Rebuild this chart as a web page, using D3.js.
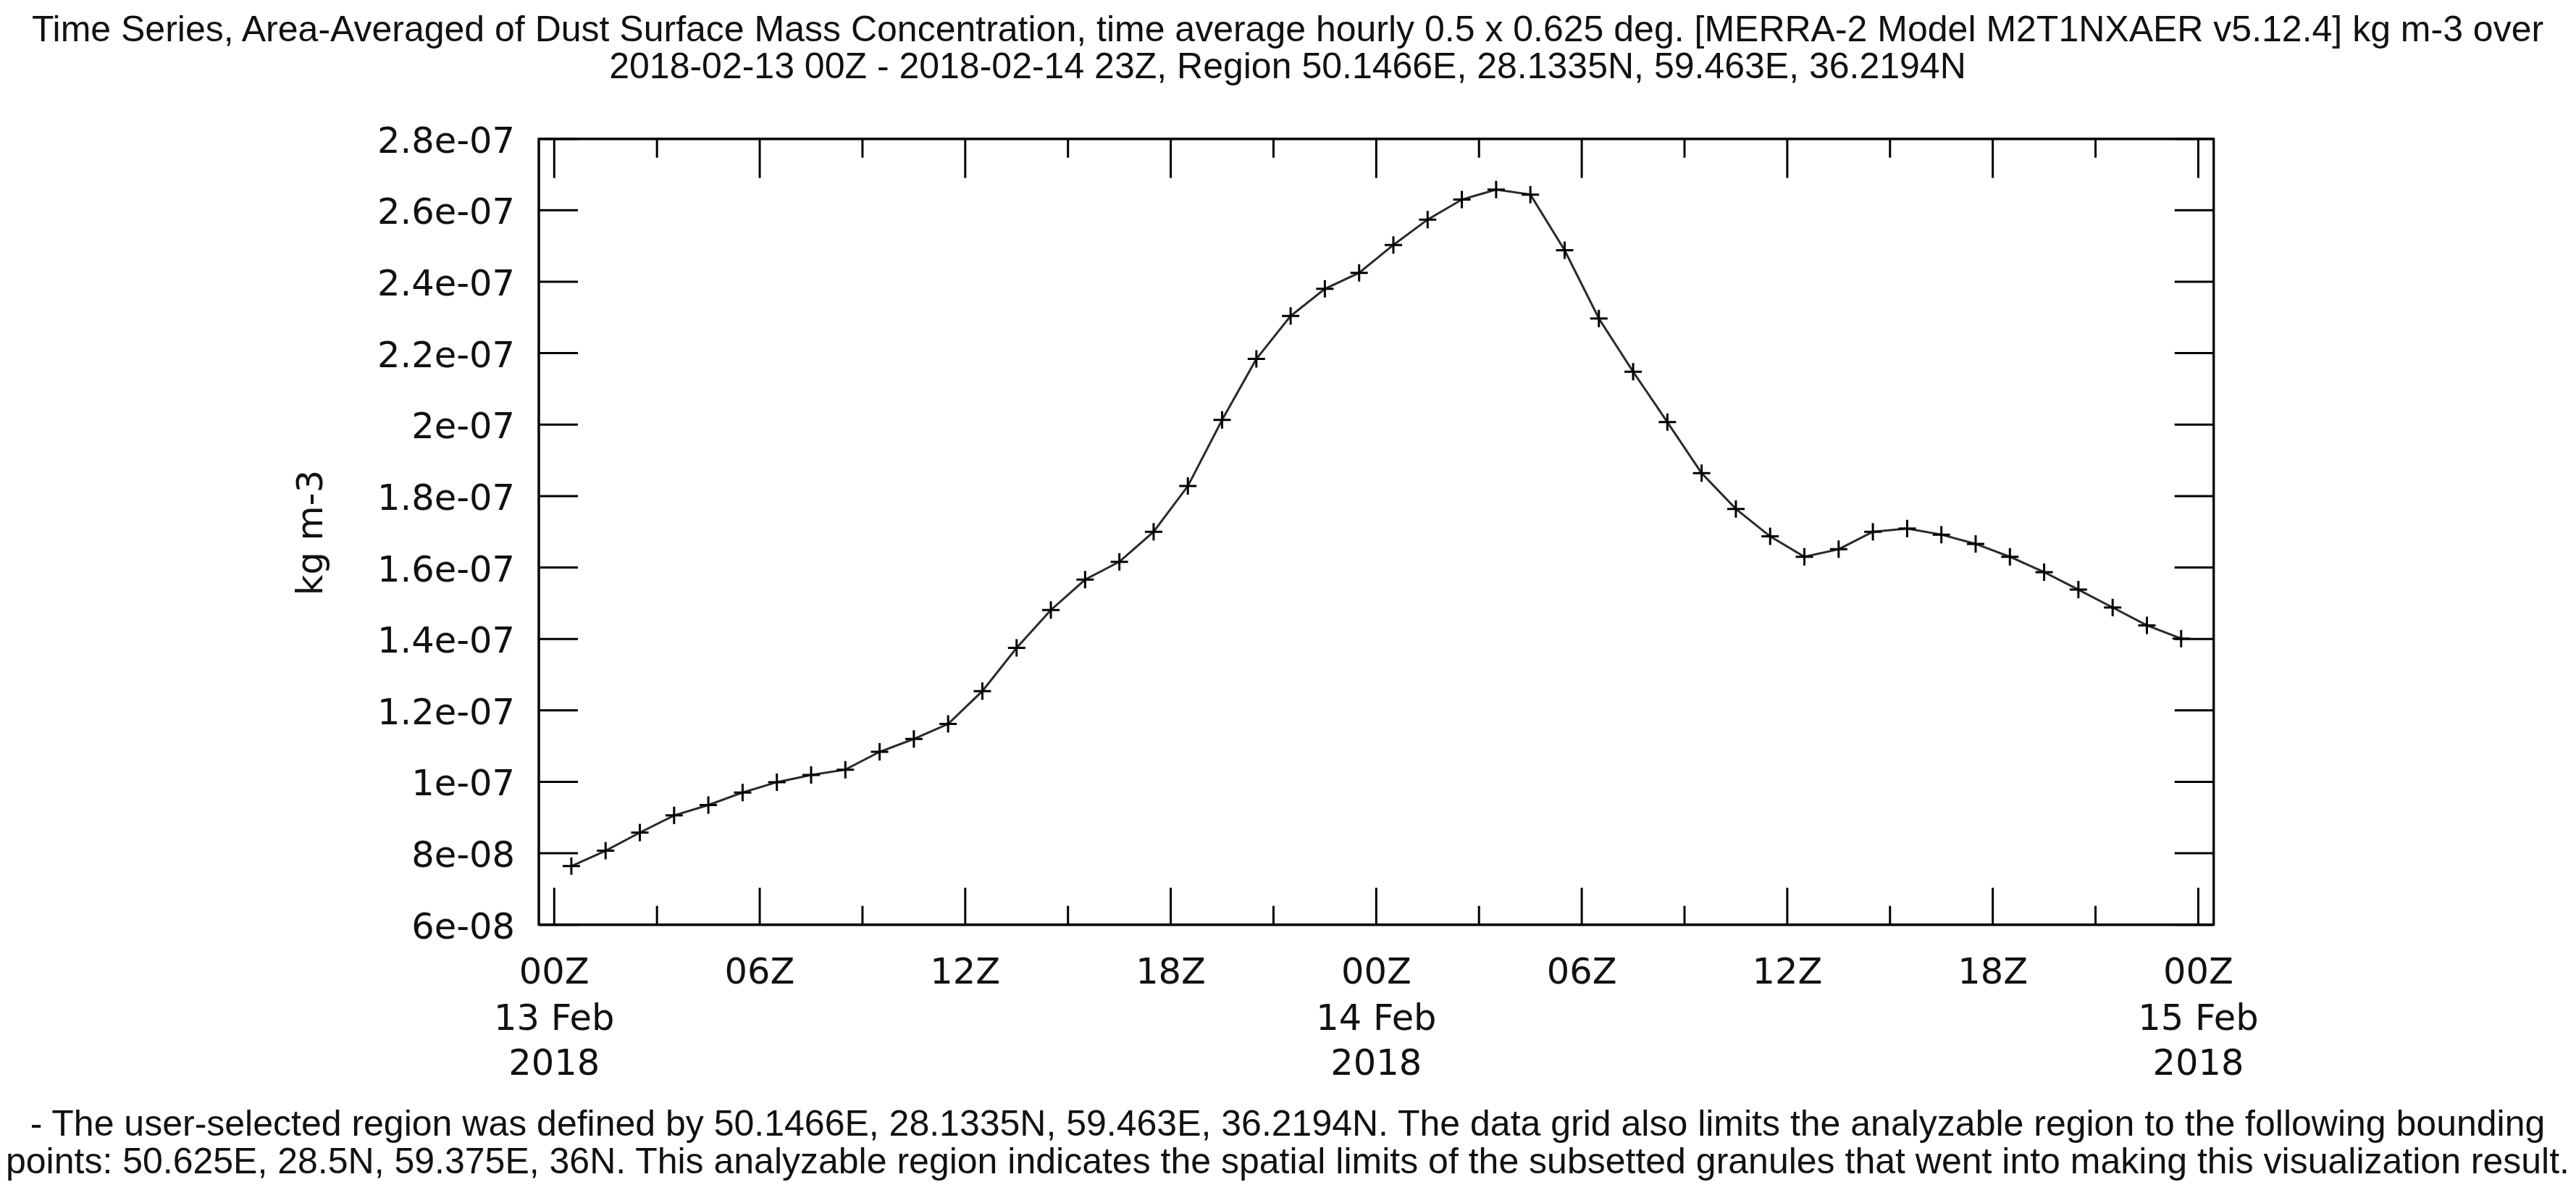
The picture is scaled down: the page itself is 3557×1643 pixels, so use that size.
<!DOCTYPE html>
<html>
<head>
<meta charset="utf-8">
<script src="https://cdn.jsdelivr.net/npm/d3@7"></script>
<style>
html,body{margin:0;padding:0;background:#fff;overflow:hidden}
svg{display:block}
.axis path,.axis line{stroke:#000;stroke-width:3;fill:none}
.axis text{font-family:"DejaVu Sans";font-size:49.5px;fill:#111}
.head{font-family:"Liberation Sans";fill:#111}
</style>
</head>
<body>
<script>
const titleLines = [
  "Time Series, Area-Averaged of Dust Surface Mass Concentration, time average hourly 0.5 x 0.625 deg. [MERRA-2 Model M2T1NXAER v5.12.4] kg m-3 over",
  "2018-02-13 00Z - 2018-02-14 23Z, Region 50.1466E, 28.1335N, 59.463E, 36.2194N"
];
const footLines = [
  "- The user-selected region was defined by 50.1466E, 28.1335N, 59.463E, 36.2194N. The data grid also limits the analyzable region to the following bounding",
  "points: 50.625E, 28.5N, 59.375E, 36N. This analyzable region indicates the spatial limits of the subsetted granules that went into making this visualization result."
];
const yLabel = "kg m-3";
const yTickValues = [6e-8,8e-8,1e-7,1.2e-7,1.4e-7,1.6e-7,1.8e-7,2e-7,2.2e-7,2.4e-7,2.6e-7,2.8e-7];
const yTickLabels = ["6e-08","8e-08","1e-07","1.2e-07","1.4e-07","1.6e-07","1.8e-07","2e-07","2.2e-07","2.4e-07","2.6e-07","2.8e-07"];
const majorHours = [0,6,12,18,24,30,36,42,48];
const majorLabels = ["00Z","06Z","12Z","18Z","00Z","06Z","12Z","18Z","00Z"];
const minorHours = [3,9,15,21,27,33,39,45];
const dateHours = [0,24,48];
const dateLabels = ["13 Feb","14 Feb","15 Feb"];
const yearLabels = ["2018","2018","2018"];
const sampleHours = [0.5,1.5,2.5,3.5,4.5,5.5,6.5,7.5,8.5,9.5,10.5,11.5,12.5,13.5,14.5,15.5,16.5,17.5,18.5,19.5,20.5,21.5,22.5,23.5,24.5,25.5,26.5,27.5,28.5,29.5,30.5,31.5,32.5,33.5,34.5,35.5,36.5,37.5,38.5,39.5,40.5,41.5,42.5,43.5,44.5,45.5,46.5,47.5];
const dustValues = [
  7.64e-8,8.07e-8,8.58e-8,9.06e-8,9.35e-8,9.70e-8,9.99e-8,1.019e-7,1.034e-7,1.084e-7,1.120e-7,1.162e-7,
  1.254e-7,1.375e-7,1.481e-7,1.566e-7,1.616e-7,1.700e-7,1.828e-7,2.013e-7,2.184e-7,2.304e-7,2.380e-7,2.425e-7,
  2.503e-7,2.574e-7,2.630e-7,2.658e-7,2.644e-7,2.488e-7,2.297e-7,2.148e-7,2.007e-7,1.864e-7,1.764e-7,1.687e-7,
  1.630e-7,1.651e-7,1.700e-7,1.709e-7,1.692e-7,1.666e-7,1.630e-7,1.587e-7,1.538e-7,1.488e-7,1.438e-7,1.401e-7
];

const W = 3557, H = 1643;
const L = 744, R = 3056.7, T = 191.7, B = 1276.7;
const svg = d3.select("body").append("svg").attr("width",W).attr("height",H).attr("viewBox",`0 0 ${W} ${H}`);

const x = d3.scaleLinear().domain([-0.45,48.45]).range([L,R]);
const y = d3.scaleLinear().domain([6e-8,2.8e-7]).range([B,T]);

// Frame
svg.append("rect").attr("x",L).attr("y",T).attr("width",R-L).attr("height",B-T)
   .attr("fill","none").attr("stroke","#000").attr("stroke-width",3);

// Y axes
const gl = svg.append("g").attr("class","axis").attr("transform",`translate(${L},0)`)
  .call(d3.axisLeft(y).tickValues(yTickValues).tickSize(-54).tickSizeOuter(0).tickPadding(33).offset(0)
        .tickFormat((d,i)=>yTickLabels[i]));
gl.selectAll("text").attr("dy",null).attr("y",19);
svg.append("g").attr("class","axis").attr("transform",`translate(${R},0)`)
  .call(d3.axisRight(y).tickValues(yTickValues).tickSize(-54).tickSizeOuter(0).tickFormat("").offset(0));

// X axes: major and minor ticks, bottom and top
const gb = svg.append("g").attr("class","axis").attr("transform",`translate(0,${B})`)
  .call(d3.axisBottom(x).tickValues(majorHours).tickSize(-51).tickSizeOuter(0).offset(0)
        .tickFormat((d,i)=>majorLabels[i]));
gb.selectAll("text").attr("dy",null).attr("y",1358-B);
svg.append("g").attr("class","axis").attr("transform",`translate(0,${B})`)
  .call(d3.axisBottom(x).tickValues(minorHours).tickSize(-26).tickSizeOuter(0).tickFormat("").offset(0));
svg.append("g").attr("class","axis").attr("transform",`translate(0,${T})`)
  .call(d3.axisTop(x).tickValues(majorHours).tickSize(-54).tickSizeOuter(0).tickFormat("").offset(0));
svg.append("g").attr("class","axis").attr("transform",`translate(0,${T})`)
  .call(d3.axisTop(x).tickValues(minorHours).tickSize(-26).tickSizeOuter(0).tickFormat("").offset(0));

// Date lines under the hour labels
const dateG = svg.append("g").attr("class","axis");
dateG.selectAll("text.d").data(dateHours).join("text").attr("class","d")
  .attr("x",d=>x(d)).attr("y",1422).attr("text-anchor","middle").text((d,i)=>dateLabels[i]);
dateG.selectAll("text.yr").data(dateHours).join("text").attr("class","yr")
  .attr("x",d=>x(d)).attr("y",1484).attr("text-anchor","middle").text((d,i)=>yearLabels[i]);

// Y label
svg.append("g").attr("class","axis").append("text")
  .attr("transform","translate(445,735.5) rotate(-90)").attr("text-anchor","middle").text(yLabel);

// Series
const pts = sampleHours.map((h,i)=>({h,v:dustValues[i]}));
svg.append("path").datum(pts)
  .attr("d",d3.line().x(d=>x(d.h)).y(d=>y(d.v)))
  .attr("fill","none").attr("stroke","#2a2a2a").attr("stroke-width",3);
svg.append("g").selectAll("path").data(pts).join("path")
  .attr("transform",d=>`translate(${x(d.h)},${y(d.v)})`)
  .attr("d","M-12,0H12M0,-12V12")
  .attr("stroke","#000").attr("stroke-width",3).attr("fill","none");

// Title and footnote
svg.selectAll("text.t").data(titleLines).join("text").attr("class","t head")
  .attr("x",1778).attr("y",(d,i)=>[57,108][i]).attr("text-anchor","middle")
  .attr("font-size",50).text(d=>d);
svg.selectAll("text.f").data(footLines).join("text").attr("class","f head")
  .attr("x",1778).attr("y",(d,i)=>[1568,1620][i]).attr("text-anchor","middle")
  .attr("font-size",50).text(d=>d);
</script>
</body>
</html>
